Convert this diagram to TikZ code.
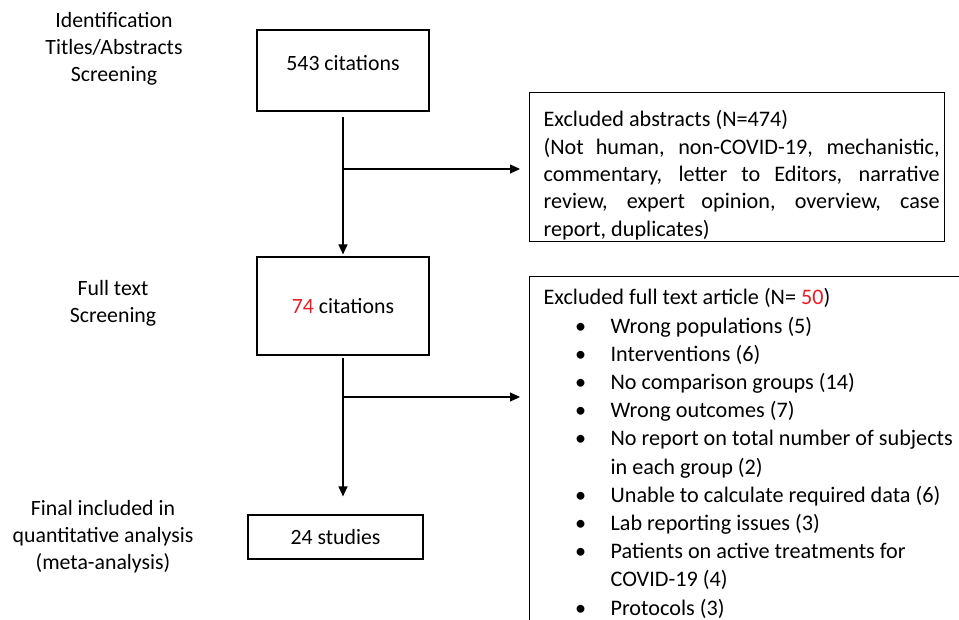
\documentclass[tikz,border=0pt]{standalone}
\usepackage{fontspec}
\setmainfont{Carlito}
\usepackage{tikz}
\usetikzlibrary{arrows.meta}

\definecolor{numred}{RGB}{232,30,37}
\newcommand{\exitem}[1]{\par\hangindent=67pt\hangafter=1
  \hspace*{26pt}\makebox[22pt][c]{\textbullet}\hspace*{19pt}#1}

\begin{document}
\begin{tikzpicture}[x=1pt,y=-1pt,font=\fontsize{21.8pt}{27pt}\selectfont]
\useasboundingbox (0,0) rectangle (959,620);
\clip (0,0) rectangle (959,620);
\begin{scope}[every node/.style={align=center,inner sep=0pt}]
    \node (stage1) at (114,49) {Identification\\Titles/Abstracts\\Screening};
    \node (stage2) at (113,303) {Full text\\Screening};
    \node (stage3) at (103,537) {Final included in\\quantitative analysis\\(meta-analysis)};
\end{scope}
\begin{scope}[every node/.style={draw,line width=1.2pt,inner sep=0pt}]
    \node[minimum width=172pt,minimum height=81pt,text depth=16pt] (cit543) at (343,70.5) {543 citations};
    \node[minimum width=172pt,minimum height=98pt] (cit74) at (343,306) {\textcolor{numred}{74} citations};
    \node[minimum width=175pt,minimum height=44pt] (studies24) at (335.5,537) {24 studies};
    \node[anchor=north west] (exabs) at (529,92) {%
      \hspace*{14pt}\begin{minipage}[t][149pt][t]{396pt}\fontsize{22.2pt}{27.3pt}\selectfont
      \vspace*{18pt}%
      Excluded abstracts (N=474)\par
      (Not human, non-COVID-19, mechanistic,\linebreak
      commentary, letter to Editors, narrative\linebreak
      review, expert opinion, overview, case\linebreak
      report, duplicates)
      \end{minipage}\hspace*{5pt}};
    \node[anchor=north west,inner xsep=14pt] (exfull) at (529,276) {%
      \begin{minipage}[t][400pt][t]{440pt}\fontsize{22.2pt}{28.2pt}\selectfont
      \raggedright\vspace*{12pt}%
      Excluded full text article (N= \textcolor{numred}{50})
      \exitem{Wrong populations (5)}
      \exitem{Interventions (6)}
      \exitem{No comparison groups (14)}
      \exitem{Wrong outcomes (7)}
      \exitem{No report on total number of subjects\newline in each group (2)}
      \exitem{Unable to calculate required data (6)}
      \exitem{Lab reporting issues (3)}
      \exitem{Patients on active treatments for\newline COVID-19 (4)}
      \exitem{Protocols (3)}
      \end{minipage}};
\end{scope}
\coordinate (split1) at (cit543.south |- 0,169);
\coordinate (split2) at (cit74.south |- 0,397);
\begin{scope}[>={Triangle[length=10pt,width=9pt]},
              flow_edge/.style={draw=black,line width=1.2pt}]
    \path [->] (cit543) edge [flow_edge,shorten <=5pt,shorten >=2pt] (cit74);
    \path [->] (split1) edge [flow_edge,shorten >=9pt] (split1 -| exabs.west);
    \path [->] (cit74.south) edge [flow_edge,shorten <=2pt,shorten >=18pt] (cit74.south |- studies24.north);
    \path [->] (split2) edge [flow_edge,shorten >=9pt] (split2 -| exfull.west);
\end{scope}
\end{tikzpicture}
\end{document}
